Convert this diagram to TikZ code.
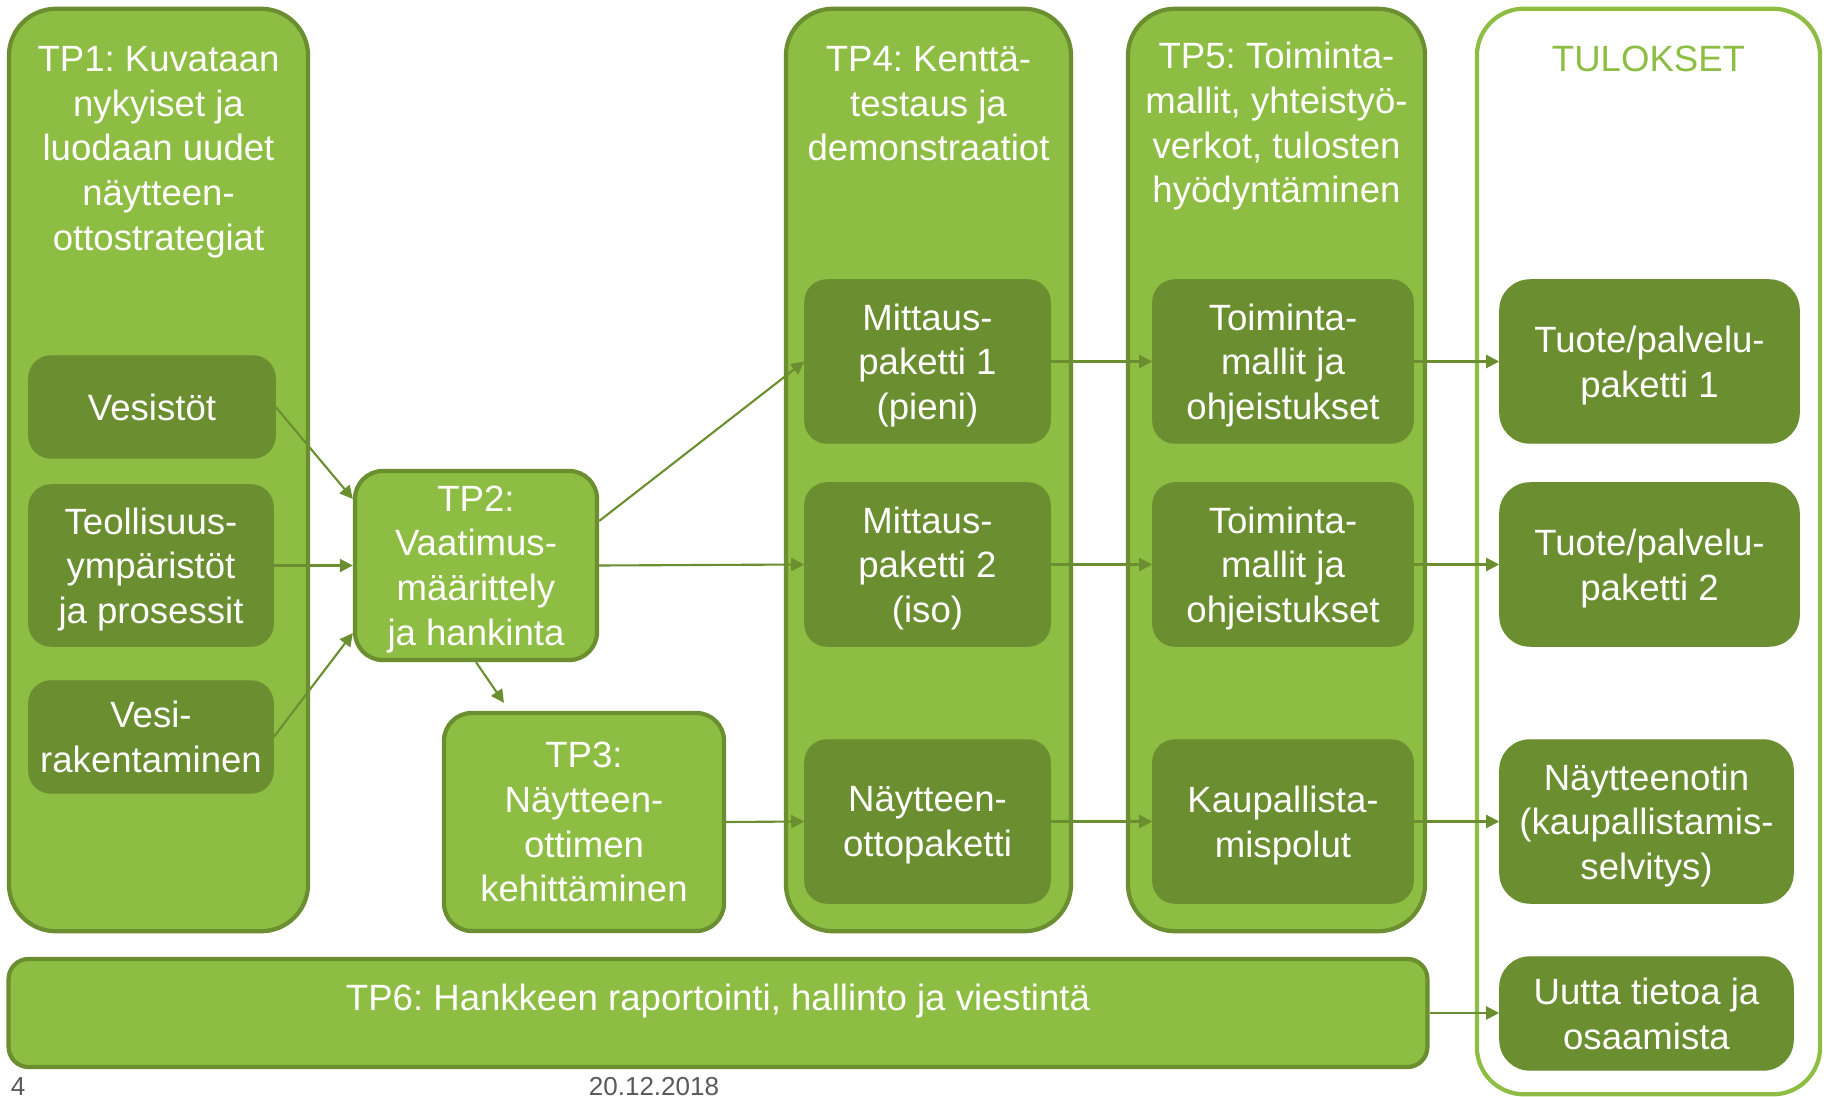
\documentclass[tikz,border=0pt]{standalone}
\usepackage{fontspec}
\setmainfont{Liberation Sans}
\usetikzlibrary{arrows.meta,positioning}
\definecolor{tplight}{RGB}{141,189,67}
\definecolor{tpdark}{RGB}{106,142,48}
\definecolor{dategray}{RGB}{89,89,89}
\frenchspacing

\begin{document}
\begin{tikzpicture}[x=0.01cm,y=-0.01cm,
    every node/.style={font=\fontsize{10.4}{12.7}\selectfont,text=white,align=center,inner sep=0pt},
    boxtext/.style={text depth=-0.8pt},
    flattext/.style={text depth=-3pt},
    colbox/.style={draw=tpdark,fill=tplight,line width=1.2pt,rounded corners=0.47cm,minimum height=9.22cm},
    tpbox/.style={boxtext,draw=tpdark,fill=tplight,line width=1.2pt,rounded corners=0.28cm},
    darkbox/.style={draw=tpdark,fill=tpdark,line width=0.4pt,rounded corners=0.22cm},
    subbox/.style={boxtext,darkbox,minimum height=1.63cm},
    resbox/.style={boxtext,darkbox,rounded corners=0.3cm,minimum height=1.63cm},
    flow/.style={draw=tpdark,line width=0.6pt,-{Triangle[length=1.3mm,width=1.3mm]}},
    datetext/.style={font=\fontsize{7.4}{9}\selectfont,text=dategray}]
    \useasboundingbox (0,0) rectangle (1829,1097);
    \clip (0,0) rectangle (1829,1097);

    % work package columns
    \node[colbox,minimum width=2.99cm] (tp1) at (158.5,470) {};
    \node[colbox,minimum width=2.85cm] (tp4) at (928.5,470) {};
    \node[colbox,minimum width=2.97cm] (tp5) at (1276.5,470) {};
    \node[colbox,draw=tplight,fill=white,minimum width=3.43cm,minimum height=10.85cm] (tul) at (1648.5,551.5) {};

    \node[below=0.39cm of tp1.north] (tp1title) {TP1: Kuvataan\\nykyiset ja\\luodaan uudet\\näytteen-\\ottostrategiat};
    \node[below=0.39cm of tp4.north] (tp4title) {TP4: Kenttä-\\testaus ja\\demonstraatiot};
    \node[below=0.35cm of tp5.north] (tp5title) {TP5: Toiminta-\\mallit, yhteistyö-\\verkot, tulosten\\hyödyntäminen};
    \node[below=0.39cm of tul.north,text=tplight] (tultitle) {TULOKSET};

    % TP1 targets
    \node[darkbox,minimum width=2.46cm,minimum height=1.02cm] (vesistot) at (152,407) {Vesistöt};
    \node[subbox,minimum width=2.44cm,minimum height=1.61cm] (teoll) at (151,565.5) {Teollisuus-\\ympäristöt\\ja prosessit};
    \node[subbox,flattext,minimum width=2.44cm,minimum height=1.12cm] (vesirak) at (151,737) {Vesi-\\rakentaminen};

    \node[tpbox,minimum width=2.42cm,minimum height=1.89cm] (tp2) at (476,565.5) {TP2:\\Vaatimus-\\määrittely\\ja hankinta};
    \node[tpbox,flattext,minimum width=2.80cm,minimum height=2.18cm] (tp3) at (584,822) {TP3:\\Näytteen-\\ottimen\\kehittäminen};

    % TP4 and TP5 packages
    \node[subbox,minimum width=2.45cm] (m1) at (927.5,361.5) {Mittaus-\\paketti 1\\(pieni)};
    \node[subbox,minimum width=2.45cm] (m2) at (927.5,564.5) {Mittaus-\\paketti 2\\(iso)};
    \node[subbox,minimum width=2.45cm] (nayt) at (927.5,821.5) {Näytteen-\\ottopaketti};
    \node[subbox,minimum width=2.60cm] (t1) at (1283,361.5) {Toiminta-\\mallit ja\\ohjeistukset};
    \node[subbox,minimum width=2.60cm] (t2) at (1283,564.5) {Toiminta-\\mallit ja\\ohjeistukset};
    \node[subbox,minimum width=2.60cm] (kaup) at (1283,821.5) {Kaupallista-\\mispolut};

    % results
    \node[resbox,minimum width=2.99cm] (r1) at (1649.5,361.5) {Tuote/palvelu-\\paketti 1};
    \node[resbox,minimum width=2.99cm] (r2) at (1649.5,564.5) {Tuote/palvelu-\\paketti 2};
    \node[resbox,minimum width=2.93cm] (r3) at (1646.5,821.5) {Näytteenotin\\(kaupallistamis-\\selvitys)};
    \node[resbox,text depth=-4pt,minimum width=2.93cm,minimum height=1.13cm] (r4) at (1646.5,1013.5) {Uutta tietoa ja\\osaamista};

    \node[draw=tpdark,fill=tplight,line width=1.2pt,rounded corners=0.2cm,minimum width=14.18cm,minimum height=1.08cm] (tp6) at (718,1013) {};
    \node[anchor=base] (tp6title) at (718,1010) {TP6: Hankkeen raportointi, hallinto ja viestintä};

    % arrows
    \draw[flow] (vesistot.east) -- ([yshift=0.665cm]tp2.west);
    \draw[flow] (teoll.east) -- (tp2.west);
    \draw[flow] (vesirak.east) -- ([yshift=-0.675cm]tp2.west);
    \draw[flow] (tp2.south) -- ([shift={(-0.8cm,0.08cm)}]tp3.north);
    \draw[flow] ([yshift=0.445cm]tp2.east) -- (m1.west);
    \draw[flow] (tp2.east) -- (m2.west);
    \draw[flow] (tp3.east) -- (nayt.west);
    \draw[flow] (m1) -- (t1);
    \draw[flow] (m2) -- (t2);
    \draw[flow] (nayt) -- (kaup);
    \draw[flow] (t1) -- (r1);
    \draw[flow] (t2) -- (r2);
    \draw[flow] (kaup) -- (r3);
    \draw[flow] (tp6.east) -- (tp6.east -| r4.west);

    \node[datetext,anchor=base] (pagenum) at (18,1095) {4};
    \node[datetext,anchor=base] (date) at (654,1095) {20.12.2018};
\end{tikzpicture}
\end{document}
